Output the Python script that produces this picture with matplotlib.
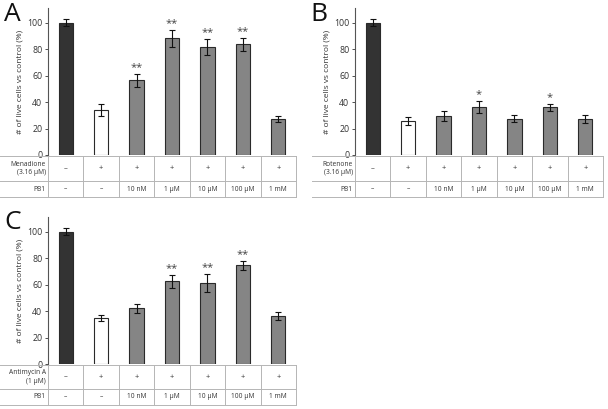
import matplotlib
matplotlib.use("Agg")
import matplotlib.pyplot as plt

plt.rcParams['font.family'] = ['Open Sans', 'DejaVu Sans']

# ---- data ----
pb1_labels = ["–", "–", "10 nM", "1 μM", "10 μM", "100 μM", "1 mM"]
toxin_flags = ["–", "+", "+", "+", "+", "+", "+"]

a_values = [100, 34, 56.5, 88, 81.5, 83.5, 27]
a_errors = [2.5, 4.2, 5, 6.7, 6.3, 4.7, 2.3]
a_stars = ["", "", "**", "**", "**", "**", ""]
a_toxin = "Menadione\n(3.16 μM)"

b_values = [100, 25.5, 29.3, 36.4, 27.5, 35.9, 27.3]
b_errors = [2.5, 3, 3.8, 4.5, 2.8, 2.8, 2.8]
b_stars = ["", "", "", "*", "", "*", ""]
b_toxin = "Rotenone\n(3.16 μM)"

c_values = [100, 34.7, 42.1, 62.3, 61.2, 74.5, 36.2]
c_errors = [2.5, 2, 3.5, 4.7, 6.6, 3.6, 2.8]
c_stars = ["", "", "", "**", "**", "**", ""]
c_toxin = "Antimycin A\n(1 μM)"

bar_colors = ["#333333", "#ffffff", "#858585", "#858585", "#858585", "#858585", "#858585"]

W, H = 608, 409
fig = plt.figure(figsize=(W / 100, H / 100), dpi=100)


def fr(x0, y0, x1, y1):
    # pixel box (top-left origin) -> figure fraction
    return [x0 / W, 1 - y1 / H, (x1 - x0) / W, (y1 - y0) / H]


def panel(letter, values, errors, stars, toxin, ax_left, ax_right, ax_top, ax_bot,
          tab_left, row1_bot, tab_bot, letter_xy):
    ax = fig.add_axes(fr(ax_left, ax_top, ax_right, ax_bot))
    x = list(range(len(values)))
    ax.bar(x, values, width=0.4, color=bar_colors, edgecolor="#2a2a2a", linewidth=0.8, zorder=2)
    ax.errorbar(x, values, yerr=errors, fmt="none", ecolor="#111111", elinewidth=0.8,
                capsize=2.2, capthick=0.8, zorder=3)
    for xi, v, e, s in zip(x, values, errors, stars):
        if s:
            ax.text(xi, v + e + 0.5, s, ha="center", va="bottom", fontsize=8, color="#444444")
    ax.set_xlim(-0.5, len(values) - 0.5)
    ax.set_ylim(0, 111)
    ax.set_yticks([0, 20, 40, 60, 80, 100])
    ax.tick_params(axis="y", labelsize=6.3, length=2, width=0.6, pad=2, colors="#333333")
    ax.set_xticks([])
    for s in ["top", "right", "bottom"]:
        ax.spines[s].set_visible(False)
    ax.spines["left"].set_color("#555555")
    ax.spines["left"].set_linewidth(0.8)
    ax.set_ylabel("# of live cells vs control (%)", fontsize=6, labelpad=3, color="#333333")

    # table
    tab = fig.add_axes(fr(ax_left, ax_bot + 1, ax_right, tab_bot))
    tab.set_xlim(-0.5, len(values) - 0.5)
    h_total = tab_bot - (ax_bot + 1)
    h_row2 = tab_bot - row1_bot
    tab.set_ylim(0, h_total)
    tab.axis("off")
    col_px = (ax_right - ax_left) / len(values)
    xl = -0.5 - (ax_left - tab_left) / col_px
    lc = "#b5b5b5"
    for yy in [h_total, h_row2, 0]:
        tab.plot([xl, len(values) - 0.5], [yy, yy], color=lc, lw=0.7, clip_on=False)
    for k in range(len(values) + 1):
        tab.plot([k - 0.5, k - 0.5], [0, h_total], color=lc, lw=0.7, clip_on=False)
    ymid1 = (h_total + h_row2) / 2
    ymid2 = h_row2 / 2
    tab.text(-0.5 - 0.06, ymid1, toxin, ha="right", va="center", fontsize=4.8,
             color="#333333", linespacing=1.3)
    tab.text(-0.5 - 0.06, ymid2, "PB1", ha="right", va="center", fontsize=4.8, color="#333333")
    for k in range(len(values)):
        tab.text(k, ymid1, toxin_flags[k], ha="center", va="center", fontsize=5.5, color="#333333")
        tab.text(k, ymid2, pb1_labels[k], ha="center", va="center", fontsize=4.8, color="#333333")

    fig.text(letter_xy[0] / W, 1 - letter_xy[1] / H, letter, fontsize=19, ha="left", va="top",
             color="#111111")


panel("A", a_values, a_errors, a_stars, a_toxin, 48, 296, 8, 155, 0, 181, 197, (4, 2))
panel("B", b_values, b_errors, b_stars, b_toxin, 355, 603, 8, 155, 312, 181, 197, (310, 2))
panel("C", c_values, c_errors, c_stars, c_toxin, 48, 296, 217, 364, 0, 389, 405, (4, 210))

fig.savefig("out.png", dpi=100)
